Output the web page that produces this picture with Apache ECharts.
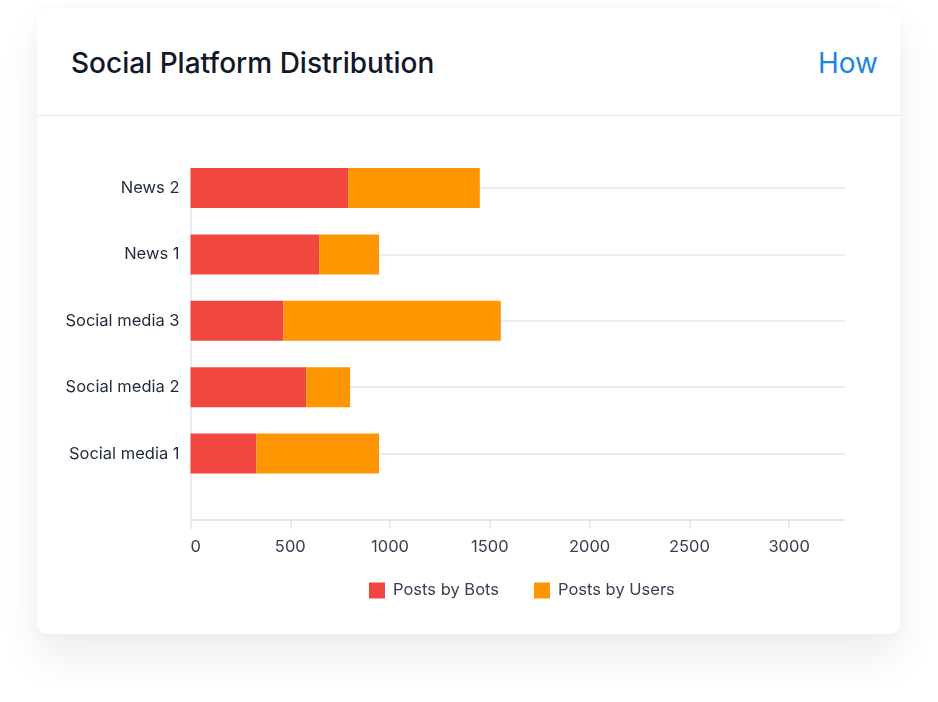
<!DOCTYPE html>
<html>
<head>
<meta charset="utf-8">
<script src="https://cdn.jsdelivr.net/npm/echarts@6/dist/echarts.min.js"></script>
<style>
	html, body { margin: 0; padding: 0; background: #fff; width: 938px; height: 702px; overflow: hidden; font-family: Inter, 'Noto Sans', sans-serif; }
	.card {
		position: absolute; left: 37px; top: 8px; width: 863px; height: 626px;
		background: #fff; border-radius: 10px;
		box-shadow: 0 24px 40px rgba(0, 0, 0, 0.07), 0 0 12px rgba(0, 0, 0, 0.03);
	}
	.card-head {
		height: 107px; border-bottom: 1px solid #e1e5f0; position: relative;
	}
	.card-head h2 {
		position: absolute; left: 34px; top: 37px; margin: 0;
		font-size: 28px; font-weight: 500; color: #111827; line-height: 36px;
	}
	.card-head a {
		position: absolute; right: 22px; top: 37px;
		font-size: 28px; color: #1c86e4; text-decoration: none; line-height: 36px;
	}
	#charts { position: absolute; left: 0; top: 0; width: 938px; height: 702px; }
</style>
</head>
<body>
<div class="card">
	<div class="card-head">
		<h2>Social Platform Distribution</h2>
		<a href="#">How</a>
	</div>
</div>
<div id="charts"></div>
<script>
// bottom slot is left empty so the rows sit on the category points
const categories = ['', 'Social media 1', 'Social media 2', 'Social media 3', 'News 1', 'News 2'];
const postsByBots = ['-', 330, 580, 465, 645, 790];
const postsByUsers = ['-', 615, 220, 1090, 300, 660];
const xTicks = [0, 500, 1000, 1500, 2000, 2500, 3000];

const SocialChart = (() => {
	const axisColor = '#e1e6f1';
	const textColor = '#374151';

	return {
		run: (myChart) => {
			const bar = (name, data, color) => ({
				type: 'bar',
				name: name,
				stack: 'posts',
				barWidth: 40,
				clip: false,
				data: data,
				itemStyle: {
					color: color
				}
			});

			let option = {
				animation: false,
				textStyle: { fontFamily: 'Inter' },
				grid: {
					left: 190.5,
					right: 93,
					top: 188,
					bottom: 182
				},
				legend: {
					left: 364,
					top: 577,
					itemWidth: 16,
					itemHeight: 16,
					itemGap: 35,
					icon: 'rect',
					textStyle: {
						fontSize: 16.5,
						color: textColor,
						padding: [0, 0, 0, 3]
					},
					data: ['Posts by Bots', 'Posts by Users']
				},
				xAxis: {
					type: 'value',
					min: 0,
					max: 3280,
					interval: 500,
					axisLine: { show: true, lineStyle: { color: axisColor, width: 1.5 } },
					axisTick: { show: true, length: 9, customValues: xTicks, lineStyle: { color: axisColor, width: 1.5 } },
					splitLine: { show: false },
					axisLabel: {
						customValues: xTicks,
						formatter: (v) => String(v),
						alignMinLabel: 'left',
						fontSize: 16.5,
						color: textColor,
						margin: 19
					}
				},
				yAxis: {
					type: 'category',
					boundaryGap: false,
					data: categories,
					axisLine: { show: true, lineStyle: { color: axisColor, width: 1.5 } },
					axisTick: { show: false },
					splitLine: { show: true, lineStyle: { color: axisColor, width: 1.5 } },
					axisLabel: {
						fontSize: 16.5,
						color: '#1f2937',
						margin: 11,
						verticalAlign: 'middle',
						lineHeight: 20,
						padding: [5, 0, 0, 0]
					}
				},
				series: [
					bar('Posts by Bots', postsByBots, '#f24640'),
					bar('Posts by Users', postsByUsers, '#ff9500')
				]
			};

			myChart.setOption(option);
		}
	};
})();

var myChart = echarts.init(document.getElementById('charts'));
SocialChart.run(myChart);
</script>
</body>
</html>
